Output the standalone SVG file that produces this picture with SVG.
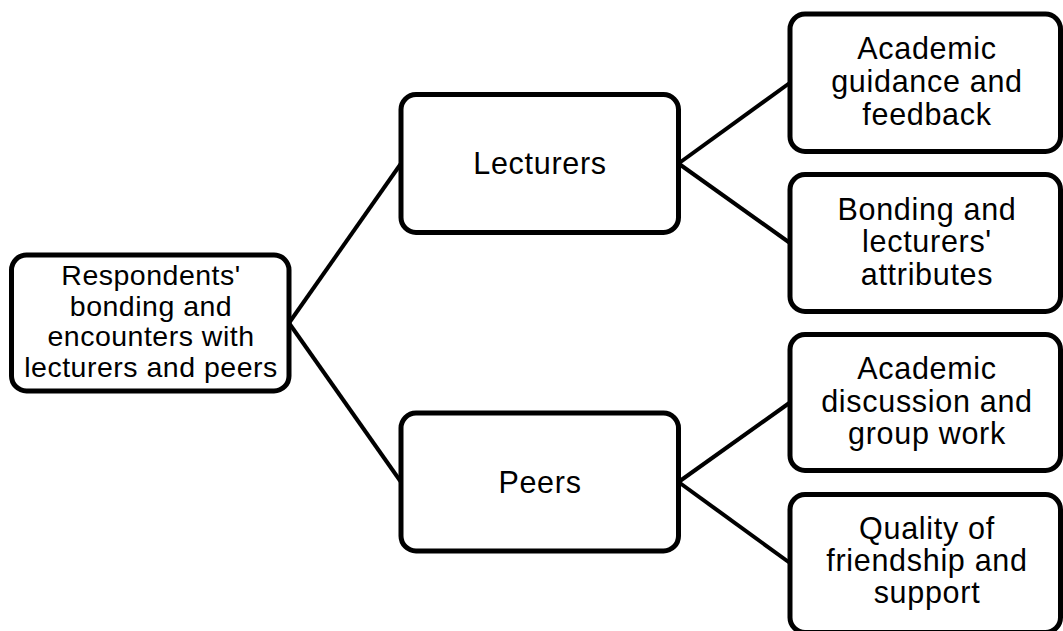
<svg xmlns="http://www.w3.org/2000/svg" width="1063" height="631" viewBox="0 0 1063 631">
  <style>
    .box { fill: #ffffff; stroke: #000000; stroke-width: 5; }
    .edge { fill: none; stroke: #000000; stroke-width: 4; }
    .label { font-family: "Liberation Sans", Arial, Helvetica, sans-serif; fill: #000000; text-anchor: middle; }
    .big { font-size: 30.5px; letter-spacing: 0.7px; }
    .root { font-size: 28.5px; letter-spacing: 0.5px; }
  </style>
  <rect x="0" y="0" width="1063" height="631" fill="#ffffff"/>

  <!-- connectors -->
  <g id="connectors">
    <path class="edge" d="M289,323 L401,163.5"/>
    <path class="edge" d="M289,323 L401,482"/>
    <path class="edge" d="M678.5,163.5 L790,82.75"/>
    <path class="edge" d="M678.5,163.5 L790,243"/>
    <path class="edge" d="M678.5,482 L790,402.5"/>
    <path class="edge" d="M678.5,482 L790,563"/>
  </g>

  <g id="root">
    <rect class="box" x="11.5" y="255" width="277.5" height="136" rx="15"/>
    <text class="label root" x="151" y="285">Respondents'</text>
    <text class="label root" x="151" y="315.5">bonding and</text>
    <text class="label root" x="151" y="346">encounters with</text>
    <text class="label root" x="151" y="376.5">lecturers and peers</text>
  </g>

  <g id="lecturers">
    <rect class="box" x="401" y="94.5" width="277.5" height="138" rx="15"/>
    <text class="label big" x="540" y="174">Lecturers</text>
  </g>

  <g id="peers">
    <rect class="box" x="401" y="413" width="277.5" height="138" rx="15"/>
    <text class="label big" x="540" y="493">Peers</text>
  </g>

  <g id="guidance">
    <rect class="box" x="790" y="14" width="270.5" height="137.5" rx="15"/>
    <text class="label big" x="927" y="59">Academic</text>
    <text class="label big" x="927" y="92">guidance and</text>
    <text class="label big" x="927" y="125">feedback</text>
  </g>

  <g id="attributes">
    <rect class="box" x="790" y="174.5" width="270.5" height="137" rx="15"/>
    <text class="label big" x="927" y="220">Bonding and</text>
    <text class="label big" x="927" y="252">lecturers'</text>
    <text class="label big" x="927" y="285">attributes</text>
  </g>

  <g id="discussion">
    <rect class="box" x="790" y="334.5" width="270.5" height="136" rx="15"/>
    <text class="label big" x="927" y="379">Academic</text>
    <text class="label big" x="927" y="411.5">discussion and</text>
    <text class="label big" x="927" y="444">group work</text>
  </g>

  <g id="friendship">
    <rect class="box" x="790" y="494.5" width="270.5" height="138" rx="15"/>
    <text class="label big" x="927" y="539">Quality of</text>
    <text class="label big" x="927" y="571">friendship and</text>
    <text class="label big" x="927" y="603">support</text>
  </g>
</svg>
